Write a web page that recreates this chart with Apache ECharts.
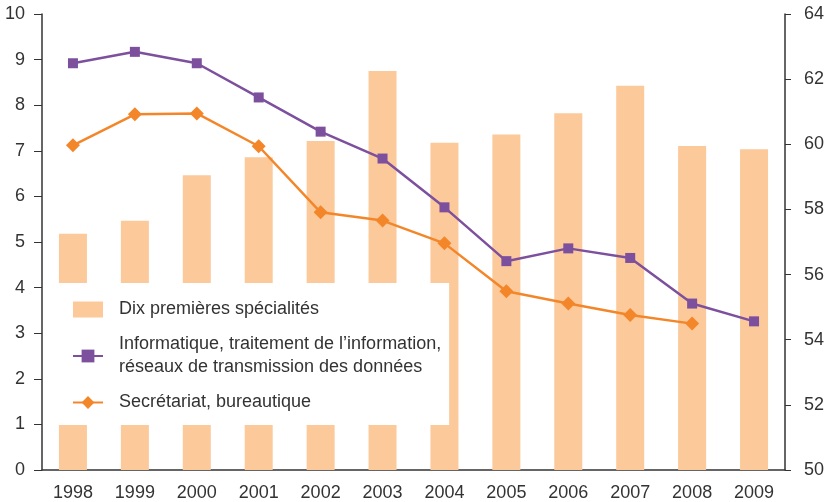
<!DOCTYPE html>
<html>
<head>
<meta charset="utf-8">
<script src="https://cdn.jsdelivr.net/npm/echarts@6/dist/echarts.min.js"></script>
<style>
  html, body { margin: 0; padding: 0; background: #fff; }
  #chart { width: 831px; height: 502px; }
</style>
</head>
<body>
<div id="chart"></div>
<script>
// data
const years = ["1998", "1999", "2000", "2001", "2002", "2003", "2004", "2005", "2006", "2007", "2008", "2009"];
const dixSpecialites = [57.25, 57.65, 59.05, 59.6, 60.1, 62.25, 60.05, 60.3, 60.95, 61.8, 59.95, 59.85];
const informatique = [8.92, 9.17, 8.92, 8.17, 7.42, 6.83, 5.76, 4.58, 4.86, 4.65, 3.65, 3.26];
const secretariat = [7.12, 7.8, 7.82, 7.1, 5.65, 5.47, 4.97, 3.92, 3.65, 3.4, 3.21, null];

const legendNames = [
    "Dix premières spécialités",
    "Informatique, traitement de l\u2019information,\nréseaux de transmission des données",
    "Secrétariat, bureautique"
];

const font = "Liberation Sans";
const axisColor = "#333";

const chart = echarts.init(document.getElementById("chart"));
chart.setOption({
    animation: false,
    textStyle: { fontFamily: font },
    grid: { left: 42, right: 46, top: 14, bottom: 32 },
    legend: {
        orient: "vertical",
        left: 55,
        top: 283,
        padding: [15, 8, 11, 17],
        itemGap: 12,
        itemWidth: 30,
        itemHeight: 16,
        backgroundColor: "#fff",
        z: 10,
        textStyle: { fontSize: 18, lineHeight: 23, color: "#333", fontFamily: font, padding: [0, 0, 0, 11] },
        data: [
            { name: legendNames[0], icon: "rect" },
            { name: legendNames[1] },
            { name: legendNames[2] }
        ]
    },
    xAxis: {
        type: "category",
        data: years,
        axisLine: { lineStyle: { color: axisColor, width: 1.5 } },
        axisTick: { length: 7, lineStyle: { color: axisColor } },
        axisLabel: { fontSize: 18, color: "#333", margin: 14 }
    },
    yAxis: [
        {
            type: "value",
            min: 0, max: 10, interval: 1,
            splitLine: { show: false },
            axisLine: { show: true, lineStyle: { color: axisColor, width: 1.5 } },
            axisTick: { show: true, length: 8, lineStyle: { color: axisColor } },
            axisLabel: { fontSize: 18, color: "#333", margin: 17 }
        },
        {
            type: "value",
            min: 50, max: 64, interval: 2,
            splitLine: { show: false },
            axisLine: { show: true, lineStyle: { color: axisColor, width: 1.5 } },
            axisTick: { show: true, length: 6, lineStyle: { color: axisColor } },
            axisLabel: { fontSize: 18, color: "#333", margin: 19 }
        }
    ],
    series: [
        {
            name: legendNames[0],
            type: "bar",
            yAxisIndex: 1,
            data: dixSpecialites,
            barWidth: 28,
            itemStyle: { color: "#fcc99b" }
        },
        {
            name: legendNames[1],
            type: "line",
            yAxisIndex: 0,
            data: informatique,
            symbol: "rect",
            symbolSize: 10,
            lineStyle: { color: "#7d509e", width: 2.5 },
            itemStyle: { color: "#7d509e" }
        },
        {
            name: legendNames[2],
            type: "line",
            yAxisIndex: 0,
            data: secretariat,
            symbol: "diamond",
            symbolSize: 14,
            lineStyle: { color: "#f4862a", width: 2.5 },
            itemStyle: { color: "#f4862a" }
        }
    ]
});
</script>
</body>
</html>
